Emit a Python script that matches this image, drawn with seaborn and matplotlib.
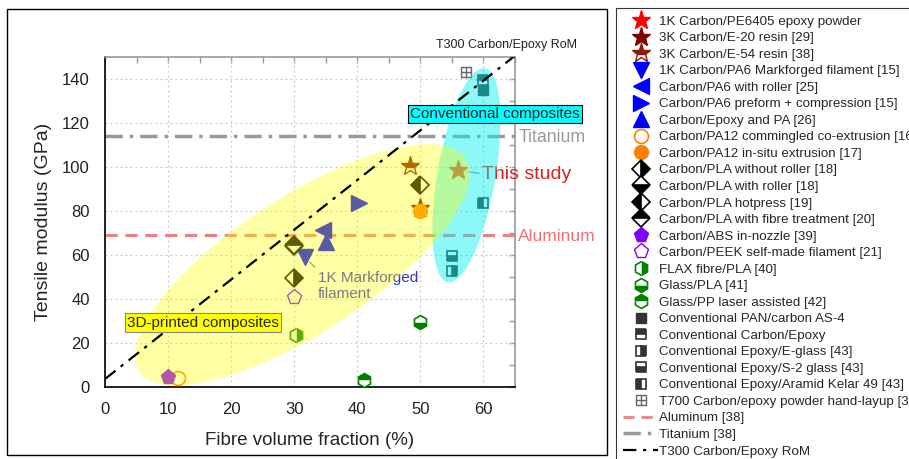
import numpy as np
import pandas as pd
import matplotlib
matplotlib.use("Agg")
import matplotlib.pyplot as plt
import seaborn as sns
from matplotlib.patches import Polygon, Rectangle
from matplotlib.path import Path
from matplotlib.lines import Line2D

sns.set_theme(style="white")
plt.rcParams['font.family'] = ['Liberation Sans', 'DejaVu Sans']

# ---------------- data ----------------
labels = [
    "1K Carbon/PE6405 epoxy powder",
    "3K Carbon/E-20 resin [29]",
    "3K Carbon/E-54 resin [38]",
    "1K Carbon/PA6 Markforged filament [15]",
    "Carbon/PA6 with roller [25]",
    "Carbon/PA6 preform + compression [15]",
    "Carbon/Epoxy and PA [26]",
    "Carbon/PA12 commingled co-extrusion [16]",
    "Carbon/PA12 in-situ extrusion [17]",
    "Carbon/PLA without roller [18]",
    "Carbon/PLA with roller [18]",
    "Carbon/PLA hotpress [19]",
    "Carbon/PLA with fibre treatment [20]",
    "Carbon/ABS in-nozzle [39]",
    "Carbon/PEEK self-made filament [21]",
    "FLAX fibre/PLA [40]",
    "Glass/PLA [41]",
    "Glass/PP laser assisted [42]",
    "Conventional PAN/carbon AS-4",
    "Conventional Carbon/Epoxy",
    "Conventional Epoxy/E-glass [43]",
    "Conventional Epoxy/S-2 glass [43]",
    "Conventional Epoxy/Aramid Kelar 49 [43]",
    "T700 Carbon/epoxy powder hand-layup [37]",
]
fibre_vf = [56.0, 50.0, 48.3, 31.7, 34.6, 40.3, 35.0, 11.6, 50.0, 30.0, 30.0, 49.9, 30.0,
            10.0, 30.0, 30.3, 49.9, 41.0, 60.0, 60.0, 55.0, 55.0, 60.0, 57.3]
modulus = [98.5, 81.5, 100.5, 59.0, 71.5, 83.4, 66.0, 3.8, 80.0, 49.5, 64.0, 91.7, 64.5,
           4.5, 41.0, 23.5, 29.5, 3.0, 135.2, 139.7, 52.7, 59.4, 83.4, 143.2]

aluminum_modulus = 69
titanium_modulus = 114
rom_vf = [0, 65]
rom_modulus = [3.5, 150.6]

# ---------------- styles ----------------
tee = Path([(-1, -1), (1, -1), (1, 1), (-1, 1), (-1, -1), (0, -1), (0, 1), (-1, 0), (1, 0)],
           [Path.MOVETO, Path.LINETO, Path.LINETO, Path.LINETO, Path.CLOSEPOLY,
            Path.MOVETO, Path.LINETO, Path.MOVETO, Path.LINETO])
blue = '#0000ff'
green = '#008000'
sq = '#333333'
styles = [
    dict(marker='*', color='#ff0000', ms=14),
    dict(marker='*', color='#800000', ms=14),
    dict(marker='*', color='#8b1a00', ms=14, fillstyle='top', markerfacecoloralt='white'),
    dict(marker='v', color=blue, ms=11),
    dict(marker='<', color=blue, ms=11),
    dict(marker='>', color=blue, ms=11),
    dict(marker='^', color=blue, ms=11),
    dict(marker='o', color='#ff8000', ms=10, fillstyle='none', mew=1.2),
    dict(marker='o', color='#ff8000', ms=10),
    dict(marker='D', color='black', ms=9, fillstyle='right', markerfacecoloralt='white', mew=1.2),
    dict(marker='D', color='black', ms=9, fillstyle='bottom', markerfacecoloralt='white', mew=1.2),
    dict(marker='D', color='black', ms=9, fillstyle='left', markerfacecoloralt='white', mew=1.2),
    dict(marker='D', color='black', ms=9, fillstyle='top', markerfacecoloralt='white', mew=1.2),
    dict(marker='p', color='#8000ff', ms=11),
    dict(marker='p', color='#8000ff', ms=11, fillstyle='none', mew=1.0),
    dict(marker='h', color=green, ms=10, fillstyle='right', markerfacecoloralt='white', mew=1.2),
    dict(marker='h', color=green, ms=10, fillstyle='bottom', markerfacecoloralt='white', mew=1.2),
    dict(marker='h', color=green, ms=10, fillstyle='top', markerfacecoloralt='white', mew=1.2),
    dict(marker='s', color=sq, ms=7.5),
    dict(marker='s', color=sq, ms=7.5, fillstyle='top', markerfacecoloralt='white', mew=1.2),
    dict(marker='s', color=sq, ms=7.5, fillstyle='right', markerfacecoloralt='white', mew=1.2),
    dict(marker='s', color=sq, ms=7.5, fillstyle='bottom', markerfacecoloralt='white', mew=1.2),
    dict(marker='s', color=sq, ms=7.5, fillstyle='left', markerfacecoloralt='white', mew=1.2),
    dict(marker=tee, color='#666666', ms=7.5, fillstyle='none', mew=1.0),
]

W, H = 909, 459
fig = plt.figure(figsize=(W / 100, H / 100), dpi=100)
ax = fig.add_axes([105 / W, 1 - 386.7 / H, 410 / W, 329.7 / H])
ax.set_xlim(0, 65)
ax.set_ylim(0, 150)

# grid
ax.set_xticks(np.arange(0, 61, 10))
ax.set_yticks(np.arange(0, 141, 20))
ax.set_xticks(np.arange(5, 65, 10), minor=True)
ax.set_yticks(np.arange(10, 150, 20), minor=True)
ax.grid(True, which='major', color='#c8c8c8', linestyle=(0, (1.5, 2.5)), linewidth=0.9)
ax.set_axisbelow(True)
ax.tick_params(axis='both', which='major', direction='out', length=5, width=1.2,
               labelsize=12, colors='#222222', pad=6)
ax.tick_params(axis='both', which='minor', direction='out', length=3, width=1.0, colors='#222222')
for s in ['left', 'bottom']:
    ax.spines[s].set_color('#111111')
    ax.spines[s].set_linewidth(1.3)
for s in ['top', 'right']:
    ax.spines[s].set_color('#999999')
    ax.spines[s].set_linewidth(1.2)

secx = ax.secondary_xaxis('top')
secx.set_xticks(np.arange(0, 66, 5))
secx.tick_params(direction='in', length=4, width=1, colors='#999999', labeltop=False)
secx.spines['top'].set_visible(False)
secy = ax.secondary_yaxis('right')
secy.set_yticks(np.arange(0, 151, 10))
secy.tick_params(direction='in', length=4, width=1, colors='#999999', labelright=False)
secy.spines['right'].set_visible(False)

# reference lines
ax.axhline(titanium_modulus, color='#999999', lw=2.5, ls=(0, (5, 2, 1, 2)), zorder=2)
ax.axhline(aluminum_modulus, color='#f08080', lw=2.2, ls=(0, (4, 2.5)), zorder=2)
rom_df = pd.DataFrame({'vf': rom_vf, 'E': rom_modulus})
sns.lineplot(data=rom_df, x='vf', y='E', ax=ax, color='black', lw=1.6,
             linestyle=(0, (6, 3, 1.5, 3)), zorder=7)

# markers
handles = []
for lab, x, y, st in zip(labels, fibre_vf, modulus, styles):
    st = dict(st)
    c = st.pop('color')
    ms = st.pop('ms')
    kw = dict(color=c, markeredgecolor=c, markersize=ms, linestyle='none')
    kw.update(st)
    ax.plot([x], [y], zorder=3, clip_on=False, **kw)
    handles.append(Line2D([], [], label=lab, **kw))

handles.append(Line2D([], [], color='#f08080', lw=2, ls=(0, (4, 2.5)), label='Aluminum [38]'))
handles.append(Line2D([], [], color='#999999', lw=2.5, ls=(0, (5, 2, 1, 2)), label='Titanium [38]'))
handles.append(Line2D([], [], color='black', lw=1.6, ls=(0, (6, 3, 1.5, 3)), label='T300 Carbon/Epoxy RoM'))


def pix_ellipse(cx, cy, a_px, b_px, ang_deg):
    s = fig.dpi / 100
    t = np.linspace(0, 2 * np.pi, 240)
    th = np.deg2rad(ang_deg)
    ox = a_px * np.cos(t) * np.cos(th) - b_px * np.sin(t) * np.sin(th)
    oy = a_px * np.cos(t) * np.sin(th) + b_px * np.sin(t) * np.cos(th)
    c = ax.transData.transform((cx, cy))
    pts = np.column_stack([c[0] + ox * s, c[1] + oy * s])
    return ax.transData.inverted().transform(pts)


ax.add_patch(Polygon(pix_ellipse(57.3, 96.2, 108.6, 29, 80.2), closed=True,
                     facecolor='#00f0f0', alpha=0.45, edgecolor='none', zorder=4, clip_on=False))
ax.add_patch(Polygon(pix_ellipse(31.3, 55.5, 195, 68, 33), closed=True,
                     facecolor='#ffff00', alpha=0.36, edgecolor='none', zorder=5, clip_on=False))

# text annotations
ax.text(61.8, 124.1, 'Conventional composites', fontsize=11, ha='center', va='center', zorder=8,
        bbox=dict(boxstyle='square,pad=0.15', facecolor='#00ffff', edgecolor='black', lw=0.8))
ax.text(15.5, 29.2, '3D-printed composites', fontsize=11, ha='center', va='center', zorder=8,
        bbox=dict(boxstyle='square,pad=0.15', facecolor='#ffff00', edgecolor='#888888', lw=0.8))
ax.text(65.6, titanium_modulus - 0.5, 'Titanium', fontsize=12.8, color='#999999', ha='left',
        va='center', clip_on=False)
ax.text(65.4, aluminum_modulus - 0.8, 'Aluminum', fontsize=12.5, color='#f07070', ha='left',
        va='center', clip_on=False)
ax.text(63.6, 155.3, 'T300 Carbon/Epoxy RoM', fontsize=9, ha='center', va='center',
        color='#222222', clip_on=False)
ax.annotate('This study', xy=(fibre_vf[0], modulus[0]), xytext=(59.8, 96.5), fontsize=14,
            color='#dd2020', ha='left', va='center', zorder=3,
            arrowprops=dict(arrowstyle='-', color='#999999', lw=1, shrinkA=0, shrinkB=7,
                            relpos=(0, 0.55)))
ax.annotate('1K Markforged\nfilament', xy=(fibre_vf[3], modulus[3]), xytext=(33.8, 45.8),
            fontsize=11, color='#3333cc', ha='left', va='center', zorder=3, linespacing=1.25,
            arrowprops=dict(arrowstyle='-', color='#777777', lw=0.9, shrinkA=0, shrinkB=5,
                            relpos=(0, 1)))

ax.set_xlabel('Fibre volume fraction (%)', fontsize=13.5, labelpad=11)
ax.set_ylabel('Tensile modulus (GPa)', fontsize=14, labelpad=7)

# frame around the chart panel
fig.patches.append(Rectangle((7 / W, 1 - 455 / H), 600 / W, 446 / H, transform=fig.transFigure,
                             fill=False, edgecolor='black', lw=1.0))

leg = fig.legend(handles=handles, loc='upper left', bbox_to_anchor=(616 / W, 1 - 8 / H),
                 fontsize=9.6, frameon=True, fancybox=False, edgecolor='black',
                 handlelength=2.6, handletextpad=0.1, labelspacing=0.315, borderpad=0.55,
                 borderaxespad=0)
leg.get_frame().set_linewidth(0.8)

fig.savefig('out.png', dpi=100)
